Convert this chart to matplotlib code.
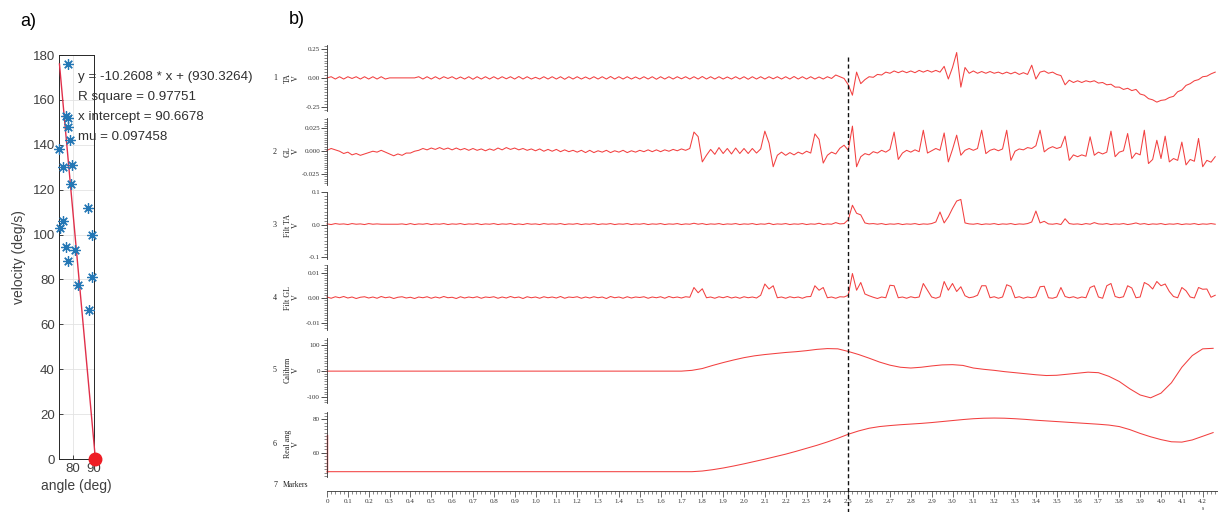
import matplotlib
matplotlib.use("Agg")
import matplotlib.pyplot as plt
import numpy as np
from matplotlib.lines import Line2D
from matplotlib.ticker import MultipleLocator, FixedLocator, FormatStrFormatter, FuncFormatter
from matplotlib.transforms import blended_transform_factory

# ---------------- panel a) : velocity vs angle ----------------
angle_deg = [77.5, 76.8, 77.4, 77.8, 78.6, 73.5, 75.4, 79.7, 78.9, 87.3,
             75.4, 73.8, 88.9, 76.7, 81.0, 77.8, 82.5, 88.9, 87.6]
velocity = [176, 153, 152, 148, 142, 138, 130, 131, 122.5, 112,
            106, 103, 100, 94.6, 93.1, 88, 77.5, 81.2, 66.4]
fit_slope = -10.2608
fit_offset = 930.3264
r_square = 0.97751
x_intercept = 90.6678
mu = 0.097458

# ---------------- panel b) : recording channels ----------------
dt_emg = 0.02    # s between samples of the EMG channels
dt_slow = 0.05   # s between samples of the calibration / angle channels
marker_time = 2.5

# TA raw, in 0.01 V
ta = [
    0, 1, -1, 1, -1, 1, -0.5, 1, -1, 1,
    -1, 1, -1, 1, -1, 0, 0, 0, 0, 0,
    0, 0, 1, -1, 1, -1, 1, -1, 1, -0.5,
    1, -1, 0.8, -1, 1, -1.2, 1, -1, 1, -1,
    1, -1, 1, -0.8, 1, -1, 1.2, -1, 1, -1,
    0.5, -1, 1, -1, 1, -1, 1, -1.2, 1, -1,
    1, -1, 0.8, -1, 1, -1, 1, -1, 1.2, -1,
    1, -1, 1, -1, 0.8, -1, 1, -1, 1, -1.2,
    1, -1, 1, -1, 1, -0.8, 1, -1, 1, -1,
    1.2, -1, 1, -1, 1, -1, 0.8, -1, 1, -1,
    1, -1.2, 1, -1, 1, -1, 1, -0.8, 1, -1,
    1, -1, 1.2, -1, 1, -1, 1, -1, 0.8, -1,
    1, -0.5, 2.5, 1, -0.5, -6, -15, 5, -5, -1.5,
    1, 0.5, 3, 2.5, 5, 4, 6, 4.5, 6, 4.5,
    6, 4.5, 6.5, 5, 6.5, 5, 6.5, 5, 10, -1,
    9, 22, -8, 9, 4, 6, 4, 5.5, 4, 5.5,
    4, 5, 3.5, 5, 3.5, 5, 3, 4.5, 3, 11,
    -1, 5, 6, 4, 5, 3, 2, -6, -2, -4,
    -2.5, -4, -2.5, -3.5, -2.5, -4.5, -4, -6, -5.5, -8,
    -8, -10, -9, -11, -10, -14, -15, -18, -19, -21,
    -19.5, -19, -17, -16, -12, -10.5, -6.5, -5, -2.5, -1.5,
    1, 1.5, 3.5, 5,
]
# GL raw, in 0.001 V
gl = [
    1, 3, 1.5, 0, -2.5, -1, -4, -2.5, -4.5, -3,
    -1.5, 0, -1, 1, -1, -3, -5, -3, -4.5, -2,
    -2, 0, 1, 3, 1.5, 3.5, 2, 4, 2, 3.5,
    1.5, 3.5, 1.5, 3, 1, 3, 1, 2.5, 0.5, 2.5,
    1, 3.5, 1.5, 4, 2, 3.5, 1.5, 3, 1, 2.5,
    0.5, 2.5, 0, 2, 0, 2, -0.5, 1.5, -0.5, 1,
    -1, 1, -1.5, 1, -1.5, 0.5, -1, 1, -1.5, 0.5,
    -1, 1, -1.5, 0.5, -1, 1, -0.5, 1.5, -0.5, 1.5,
    -0.5, 1.5, 0, 2, 0.5, 2.5, 1, 3, 21, 16,
    -11.7, -4.4, 2, -3.4, 4, -2.5, 3, -3, 3.5, -2.5,
    3, -2.5, 3, -2, 2.5, 22, 9, -17, -4.4, -1,
    -4.5, -1.5, -4, -1, -3, 0, -2, 19, 13, -13,
    -4.4, -1, -3, 3.3, 6.6, 1, 27.5, -17, -6, -2.6,
    -4, -0.5, -2, 1, -1, 2, 21, -9, -2, 1,
    -1, 1.5, -0.5, 23, -2, 0.5, 3, 1, 20, -11.7,
    2, 17.6, -4.4, 1, 3, 1, 3, 23, -2.6, 1,
    2.5, 0.5, 2.5, 23, -10, 0, 2.5, 1.5, 4, 3,
    6, 23, -0.7, 3, 5, 3, 4.5, 16.5, -10, -4,
    -6, -4, -5.5, 15.8, -4.4, -1, -3, -1, 22, -6,
    -1, 0.5, 19.4, -8, -2, -4, 23, -13.5, -9, 12,
    -8, 16.5, -11.7, -8, -10, 10, -15, -9, -11, 14,
    -17, -10, -12, -6,
]
# filtered TA, in 0.01 V
filt_ta = [
    0.2, 0, 0.3, 0.1, 0.2, 0, 0.3, 0.1, 0.2, 0,
    0.3, 0.1, 0.2, 0.1, 0.1, 0.1, 0.1, 0.1, 0.2, 0,
    0.3, 0, 0.2, 0.1, 0.3, 0, 0.2, 0.1, 0.3, 0,
    0.2, 0.1, 0.3, 0, 0.2, 0.1, 0.3, 0, 0.2, 0.1,
    0.3, 0, 0.2, 0.1, 0.3, 0, 0.2, 0, 0.3, 0.1,
    0.2, 0, 0.3, 0.1, 0.2, 0.1, 0.3, 0, 0.2, 0.1,
    0.3, 0, 0.2, 0.1, 0.3, 0, 0.2, 0.1, 0.3, 0,
    0.2, 0.1, 0.3, 0, 0.2, 0.1, 0.3, 0, 0.2, 0.1,
    0.3, 0, 0.2, 0.1, 0.3, 0, 0.2, 0.1, 0.4, 0.1,
    0.3, 0, 0.2, 0.1, 0.3, 0, 0.2, 0.1, 0.3, 0,
    0.2, 0.1, 0.3, 0, 0.2, 0.1, 0.4, 0, 0.2, 0.1,
    0.3, 0, 0.2, 0.1, 0.3, 0, 0.2, 0.1, 0.4, 0,
    0.2, 0.1, 0.6, 0.2, 0.3, 1.5, 6.0, 3.5, 3.0, 0.5,
    0.2, 0.3, 0.1, 0.3, 0, 0.2, 0.1, 0.3, 0, 0.2,
    0.1, 0.3, 0, 0.2, 0.1, 0.3, 0.8, 3.9, 0.5, 2.4,
    5.0, 7.3, 7.8, 0.5, 0.2, 0.1, 0.3, 0, 0.2, 0.1,
    0.3, 0, 0.2, 0.1, 0.3, 0, 0.2, 0.1, 0.3, 0.8,
    4.2, 0.5, 1.0, 0.2, 0.1, 0.3, 0, 1.8, 0.3, 0.1,
    0.2, 0, 0.3, 0.1, 0.6, 0.2, 0.1, 0.3, 0, 0.2,
    0.1, 0.3, 0, 0.2, 0.5, 0.1, 0.3, 0, 0.2, 0.1,
    0.3, 0, 0.2, 0.1, 0.3, 0, 0.2, 0.1, 0.3, 0,
    0.2, 0.1, 0.3, 0.1,
]
# filtered GL, in 0.001 V
filt_gl = [
    0.3, -0.2, 0.4, 0, 0.5, -0.1, 0.3, -0.3, 0.2, 0.4,
    -0.1, 0.3, -0.2, 0.5, 0, 0.3, -0.3, 0.2, 0.4, -0.1,
    0.2, -0.3, 0.3, 0, 0.4, -0.2, 0.3, -0.1, 0.5, 0,
    0.2, -0.3, 0.4, -0.1, 0.3, 0, 0.4, -0.2, 0.3, 0.1,
    0.4, -0.2, 0.3, -0.1, 0.5, 0, 0.3, -0.3, 0.4, 0,
    0.3, -0.2, 0.4, 0, 0.3, -0.1, 0.5, -0.2, 0.3, 0.1,
    0.4, -0.2, 0.3, -0.1, 0.4, 0, 0.3, -0.3, 0.5, 0,
    0.3, -0.2, 0.4, -0.1, 0.3, 0.1, 0.4, -0.2, 0.3, 0,
    0.4, -0.2, 0.5, 0, 0.3, -0.1, 0.4, 0.2, 4.1, 2,
    3.6, 0, 0.3, -0.2, 0.4, 0, 0.5, -0.1, 0.3, -0.2,
    0.4, 0, 0.3, -0.1, 1, 5.5, 3.5, 4.8, 0, 0.3,
    -0.2, 0.4, 0, 0.3, -0.2, 0.4, 0.5, 4.8, 3, 4.1,
    0, 0.3, -0.2, 0.4, 0.3, 1, 9.7, 3, 6.1, 1.5,
    0.8, 0.2, -0.3, 0.3, 0, 5, 4.8, 0, 0.3, -0.2,
    0.4, 0, 0.3, 5.7, 3, 0.3, -0.2, 0.4, 6.5, 3,
    5.7, 2.5, 4.4, 0.8, 0, 0.3, 1, 4.8, 4.8, 0,
    0.4, -0.2, 0.3, 5.2, 4.5, 0, 0.4, -0.2, 0.3, 0,
    0.4, 4.4, 4.6, 0, -0.2, 0.3, 4.1, 0.5, 0, 0.4,
    -0.2, 0.3, 0, 4.1, 4.8, 0.3, -0.2, 4.8, 5.7, 0.5,
    0, 0.4, 4.8, 3.9, 0, 0.3, 6.1, 5.2, 3.5, 6.5,
    4.8, 5.5, 2.5, 0.5, 0, 4.1, 2.8, 0.3, -0.1, 4.1,
    3.4, 3.5, 0.2, 1,
]
# calibration channel, in V
calibrm = [
    0, 0, 0, 0, 0, 0, 0, 0, 0, 0,
    0, 0, 0, 0, 0, 0, 0, 0, 0, 0,
    0, 0, 0, 0, 0, 0, 0, 0, 0, 0,
    0, 0, 0, 0, 0,
    3, 10, 22, 33, 43, 52, 59, 64, 68, 72,
    75, 79, 84, 87, 86, 76, 64, 50, 35, 23,
    15, 12, 15, 20, 24, 25, 22, 12, 7, 3,
    -2, -6, -10, -14, -17, -16, -12, -8, -4, -6,
    -20, -40, -68, -92, -103, -85, -45, 15, 60, 86,
    88,
]
# real angle channel, in V
real_ang = [
    48.6, 48.6, 48.6, 48.6, 48.6, 48.6, 48.6, 48.6, 48.6, 48.6,
    48.6, 48.6, 48.6, 48.6, 48.6, 48.6, 48.6, 48.6, 48.6, 48.6,
    48.6, 48.6, 48.6, 48.6, 48.6, 48.6, 48.6, 48.6, 48.6, 48.6,
    48.6, 48.6, 48.6, 48.6, 48.6, 48.6,
    49.0, 49.8, 50.8, 52.0, 53.3, 54.7, 56.1, 57.6, 59.1, 60.8,
    62.6, 64.4, 66.4, 68.6, 71.0, 73.0, 74.6, 75.6, 76.2, 76.7,
    77.1, 77.5, 78.0, 78.6, 79.2, 79.8, 80.3, 80.6, 80.7, 80.6,
    80.3, 79.9, 79.4, 79.0, 78.6, 78.2, 77.8, 77.4, 77.0, 76.5,
    75.6, 73.8, 71.5, 69.5, 67.8, 66.5, 66.3, 67.6, 69.8, 72.0,
]
ang_initial = 70.6

ch_numbers = ["1", "2", "3", "4", "5", "6"]
ch_names = ["TA\nV", "GL\nV", "Filt TA\nV", "Filt GL\nV", "Calibrm\nV", "Real ang\nV"]
ch_ticks = [[-0.25, 0, 0.25], [-0.025, 0, 0.025], [-0.1, 0, 0.1],
            [-0.01, 0, 0.01], [-100, 0, 100], [60, 80]]
ch_fmt = ["%.2f", "%.3f", "%.1f", "%.2f", "%d", "%d"]

# ---------------- drawing ----------------
W, H = 1218, 512
fig = plt.figure(figsize=(W / 100, H / 100), dpi=100)


def box(x0, y0, x1, y1):
    return [x0 / W, 1 - y1 / H, (x1 - x0) / W, (y1 - y0) / H]


sans = "Liberation Sans"
serif = "Liberation Serif"
grey = "#404040"

# panel a
axa = fig.add_axes(box(59, 55, 94, 459))
line_x = np.array([(fit_offset - max(velocity)) / -fit_slope, x_intercept])
axa.plot(line_x, fit_slope * line_x + fit_offset, color="#e0304a", lw=1.0,
         clip_on=False, zorder=3)
axa.plot(angle_deg, velocity, ls="none", marker=(8, 2, 0), ms=7.5, mew=0.9,
         mec="#2477b5", clip_on=False, zorder=4)
axa.plot([x_intercept], [0], "o", color="#ee1c24", ms=9, clip_on=False, zorder=5)
axa.set_xlim(73.3, 90)
axa.set_ylim(0, 180)
axa.set_xticks([80, 90])
axa.set_yticks(np.arange(0, 181, 20))
axa.grid(True, color="#e3e3e3", lw=0.6)
axa.set_axisbelow(True)
axa.tick_params(direction="in", length=3, width=0.6, colors="#262626",
                labelcolor=grey, labelsize=9.5, pad=3)
for lab in axa.get_xticklabels() + axa.get_yticklabels():
    lab.set_family(sans)
for s in axa.spines.values():
    s.set_linewidth(0.7)
    s.set_color("#262626")
axa.set_xlabel("angle (deg)", family=sans, fontsize=10, color=grey, labelpad=3)
axa.set_ylabel("velocity (deg/s)", family=sans, fontsize=10, color=grey, labelpad=5)
fit_text = ("y = %.4f * x + (%.4f)\nR square = %.5f\nx intercept = %.4f\nmu = %.6f"
            % (fit_slope, fit_offset, r_square, x_intercept, mu))
axa.text(82.4, 172.8, fit_text, family=sans, fontsize=9.6, color="#303030",
         va="top", ha="left", linespacing=1.88, clip_on=False, zorder=6)

fig.text(20 / W, 1 - 22 / H, "a)", family=sans, fontsize=13, va="center")
fig.text(289 / W, 1 - 20 / H, "b)", family=sans, fontsize=13, va="center")

# panel b channels
trace_red = "#f24040"
t_end = (W - 327) / 208.5
signals = [
    (np.array(ta) * 0.01, dt_emg),
    (np.array(gl) * 0.001, dt_emg),
    (np.array(filt_ta) * 0.01, dt_emg),
    (np.array(filt_gl) * 0.001, dt_emg),
    (np.array(calibrm, dtype=float), dt_slow),
    (np.array(real_ang), dt_slow),
]
rows = [(45, 111), (118, 185), (191.7, 259), (265, 330), (337.7, 403), (411.7, 476.7)]
ylims = [(-0.287, 0.285), (-0.037, 0.0364), (-0.107, 0.102),
         (-0.0129, 0.0131), (-123, 129), (45.6, 84.5)]
minor_steps = [0.025, 0.0025, 0.01, 0.001, 10, 2]

for k, (vals, dt) in enumerate(signals):
    top, bot = rows[k]
    ax = fig.add_axes(box(327, top, W, bot))
    t = np.arange(len(vals)) * dt
    ax.plot(t, vals, color=trace_red, lw=0.75, clip_on=False)
    if k == 5:
        ax.plot([0, 0], [ang_initial, vals[0]], color=trace_red, lw=1.0, clip_on=False)
    ax.set_xlim(0, t_end)
    ax.set_ylim(*ylims[k])
    ax.patch.set_alpha(0)
    for s in ["top", "right", "bottom"]:
        ax.spines[s].set_visible(False)
    ax.spines["left"].set_linewidth(0.6)
    ax.spines["left"].set_color("#333333")
    ax.xaxis.set_visible(False)
    ax.yaxis.set_major_locator(FixedLocator(ch_ticks[k]))
    ax.yaxis.set_minor_locator(MultipleLocator(minor_steps[k]))
    ax.yaxis.set_major_formatter(FormatStrFormatter(ch_fmt[k]))
    ax.tick_params(axis="y", which="major", length=4, width=0.6, colors="#333333",
                   labelsize=5, pad=1)
    ax.tick_params(axis="y", which="minor", length=2, width=0.4, colors="#333333")
    for lab in ax.get_yticklabels():
        lab.set_family(serif)
    yc = 1 - (top + bot) / 2 / H
    fig.text(275 / W, yc, ch_numbers[k], family=serif, fontsize=5.8,
             ha="center", va="center", color="#222222")
    fig.text(292 / W, yc, ch_names[k], family=serif, fontsize=5.8, rotation=90,
             ha="center", va="center", multialignment="center", color="#222222",
             linespacing=1.1)

# markers row with the time ruler
axm = fig.add_axes(box(327, 478, W, 491))
axm.patch.set_alpha(0)
axm.set_xlim(0, t_end)
for s in ["top", "right", "left"]:
    axm.spines[s].set_visible(False)
axm.spines["bottom"].set_linewidth(0.6)
axm.spines["bottom"].set_color("#333333")
axm.yaxis.set_visible(False)
axm.xaxis.set_major_locator(MultipleLocator(0.1))
axm.xaxis.set_minor_locator(MultipleLocator(0.02))
axm.xaxis.set_major_formatter(FuncFormatter(lambda v, p: "0" if abs(v) < 1e-9 else "%.1f" % v))
axm.tick_params(axis="x", which="major", length=4, width=0.5, colors="#333333",
                labelsize=5, pad=2)
axm.tick_params(axis="x", which="minor", length=2, width=0.4, colors="#333333")
for lab in axm.get_xticklabels():
    lab.set_family(serif)
fig.text(275 / W, 1 - 485 / H, "7", family=serif, fontsize=5.8, ha="center",
         va="center", color="#222222")
fig.text(283 / W, 1 - 485 / H, "Markers", family=serif, fontsize=5.5, ha="left",
         va="center", color="#222222")
fig.text(1203 / W, 1 - 508 / H, "s", family=serif, fontsize=4, ha="center",
         va="center", color="#222222")

# event marker: dashed line through all channels
trans = blended_transform_factory(axm.transData, fig.transFigure)
fig.add_artist(Line2D([marker_time, marker_time], [1 - 57 / H, 0], transform=trans,
                      color="#111111", lw=1.0, ls=(0, (3, 2))))

fig.savefig("out.png", dpi=100)
